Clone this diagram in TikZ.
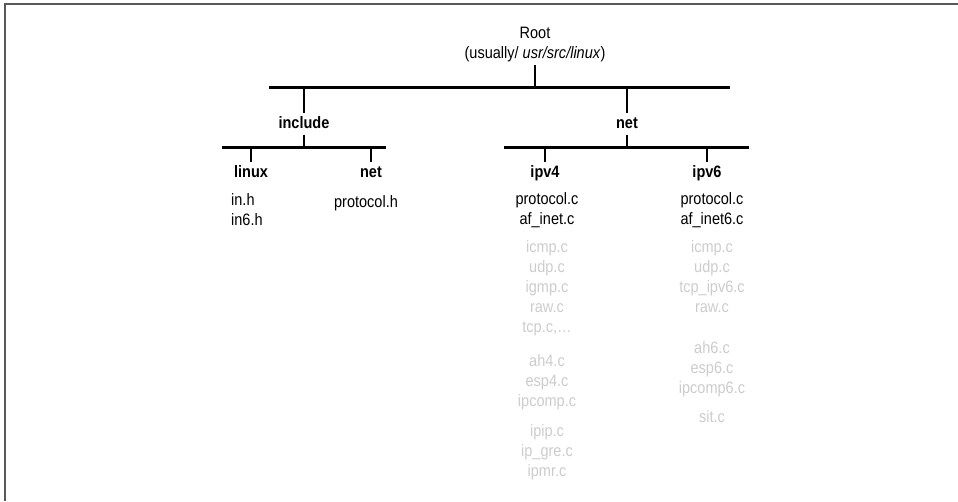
\documentclass[tikz,border=0pt]{standalone}
\usepackage{fontspec}
\setmainfont{Liberation Sans}[FakeStretch=0.88]
\usetikzlibrary{positioning}
\definecolor{filegray}{gray}{0.8}
\tikzset{
  bar/.style   ={line width=3pt, line cap=butt},
  stub/.style  ={line width=2.6pt},
  frm/.style   ={line width=2pt, draw=black!65},
  dir/.style   ={font=\fontsize{16.5}{20}\selectfont\bfseries,
                 inner xsep=0pt, inner ysep=3pt, text height=12pt,
                 text depth=3.5pt, anchor=base},
  src/.style   ={font=\fontsize{16.5}{20}\selectfont, align=center,
                 inner sep=0pt, anchor=north,
                 execute at begin node=\strut},
  opt/.style   ={src, text=filegray},
}
\begin{document}
\begin{tikzpicture}[x=1pt, y=-1pt]
\useasboundingbox (0,0) rectangle (958,501);
\draw[frm] (4.5,501) -- (4.5,4) -- (958,4);
% root
\node[src] (root) at (535,27) {Root\\(usually/ \textit{usr/src/linux})};
\coordinate (b0w) at (269,87);
\coordinate (b0e) at (730,87);
\draw[bar] (b0w) -- (b0e);
\draw[stub] (root) -- (root |- b0w);
% first level
\node[dir] (incl) at (304,128) {include};
\node[dir] (net)  at (627,128) {net};
\draw[stub] (b0w -| incl) -- (incl);
\draw[stub] (b0w -| net) -- (net);
% include/
\coordinate (b1w) at (222,147);
\coordinate (b1e) at (386,147);
\draw[bar] (b1w) -- (b1e);
\draw[stub] (incl) -- (incl |- b1w);
\node[dir] (lnx)  at (251,177) {linux};
\node[dir] (inet) at (371,177) {net};
\draw[stub] (b1w -| lnx) -- (lnx);
\draw[stub] (b1w -| inet) -- (inet);
\node[src, anchor=north west, align=left] (lnxh) at (231,193) {in.h\\in6.h};
\node[src, anchor=base] (ineth) at (366,207) {protocol.h};
% net/
\coordinate (b2w) at (504,147);
\coordinate (b2e) at (749,147);
\draw[bar] (b2w) -- (b2e);
\draw[stub] (net) -- (net |- b2w);
\node[dir] (v4) at (545,177) {ipv4};
\node[dir] (v6) at (707,177) {ipv6};
\draw[stub] (b2w -| v4) -- (v4);
\draw[stub] (b2w -| v6) -- (v6);
% ipv4 files
\node[src] (v4core) at (547,192) {protocol.c\\af\_inet.c};
\node[opt] (v4proto) at (547,240) {icmp.c\\udp.c\\igmp.c\\raw.c\\tcp.c,\dots};
\node[opt] (v4sec)   at (547,354) {ah4.c\\esp4.c\\ipcomp.c};
\node[opt] (v4tun)   at (547,424) {ipip.c\\ip\_gre.c\\ipmr.c};
% ipv6 files
\node[src] (v6core) at (712,192) {protocol.c\\af\_inet6.c};
\node[opt] (v6proto) at (712,240) {icmp.c\\udp.c\\tcp\_ipv6.c\\raw.c};
\node[opt] (v6sec)   at (712,341) {ah6.c\\esp6.c\\ipcomp6.c};
\node[opt] (v6tun)   at (712,408) {sit.c};
\end{tikzpicture}
\end{document}
